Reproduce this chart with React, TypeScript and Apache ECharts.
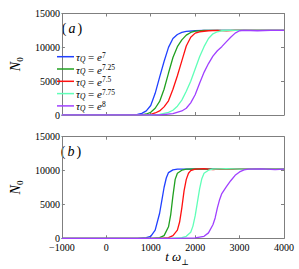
import React, { useEffect, useRef } from "react";
import * as echarts from "echarts";

// legend names (exponent of tau_Q)
const exponents = ["7", "7.25", "7.5", "7.75", "8"];
const colors = ["#2040ff", "#20a020", "#ff1010", "#60ffb8", "#a040ff"];

// x axis ticks
const xTicks = [-1000, 0, 1000, 2000, 3000, 4000];
const yTicks = [0, 5000, 10000, 15000];

// panel (a): [t, N0]
const blueA: [number, number][] = [[-1000, 0], [500, 0], [700, 100], [800, 250], [900, 600], [1000, 1400], [1100, 3200], [1200, 5600], [1300, 7900], [1400, 10000], [1500, 11300], [1600, 11900], [1700, 12200], [1800, 12350], [2000, 12450], [2200, 12500], [4000, 12500]];
const greenA: [number, number][] = [[-1000, 0], [800, 0], [900, 150], [1000, 400], [1100, 1000], [1200, 2000], [1300, 3800], [1400, 6200], [1500, 8500], [1600, 10100], [1700, 11100], [1800, 11800], [1900, 12200], [2000, 12400], [2200, 12500], [4000, 12500]];
const redA: [number, number][] = [[-1000, 0], [900, 0], [1000, 100], [1100, 300], [1200, 600], [1300, 1200], [1400, 2100], [1500, 3800], [1600, 5800], [1700, 8000], [1800, 10200], [1900, 11500], [2000, 12100], [2100, 12300], [2300, 12450], [2500, 12500], [2700, 12420], [2900, 12500], [4000, 12500]];
const cyanA: [number, number][] = [[-1000, 0], [1000, 0], [1200, 100], [1400, 400], [1500, 700], [1600, 1300], [1700, 2200], [1800, 3500], [1900, 5000], [2000, 6800], [2100, 8600], [2200, 10100], [2300, 11300], [2400, 12000], [2500, 12300], [2600, 12450], [2800, 12500], [4000, 12500]];
const purpleA: [number, number][] = [[-1000, 0], [1200, 0], [1500, 200], [1700, 600], [1800, 1000], [1900, 1800], [2000, 3000], [2100, 4700], [2200, 6300], [2300, 7600], [2400, 8700], [2500, 9500], [2600, 10100], [2700, 10800], [2800, 11500], [2900, 12100], [3000, 12450], [3100, 12500], [3400, 12450], [3700, 12500], [4000, 12500]];

// panel (b): [t, N0]
const blueB: [number, number][] = [[-1000, 0], [700, 0], [900, 100], [1000, 300], [1100, 1200], [1200, 3700], [1250, 5600], [1300, 7500], [1350, 8900], [1400, 9700], [1500, 10100], [1600, 10200], [4000, 10200]];
const greenB: [number, number][] = [[-1000, 0], [1000, 0], [1200, 100], [1300, 400], [1400, 1700], [1450, 3500], [1500, 6300], [1550, 8700], [1600, 9600], [1700, 10050], [1800, 10200], [2000, 10250], [2200, 10200], [4000, 10200]];
const redB: [number, number][] = [[-1000, 0], [1200, 0], [1400, 100], [1500, 400], [1600, 1200], [1650, 2400], [1700, 4500], [1750, 7000], [1800, 8700], [1850, 9600], [1900, 10000], [2000, 10200], [2200, 10300], [2400, 10150], [2600, 10250], [2800, 10200], [4000, 10200]];
const cyanB: [number, number][] = [[-1000, 0], [1400, 0], [1700, 100], [1800, 300], [1900, 900], [1950, 1800], [2000, 3300], [2050, 5300], [2100, 7300], [2150, 8800], [2200, 9600], [2300, 10050], [2400, 10200], [2700, 10300], [3000, 10200], [4000, 10200]];
const purpleB: [number, number][] = [[-1000, 0], [1600, 0], [2000, 50], [2200, 300], [2300, 800], [2400, 2000], [2450, 3000], [2500, 4500], [2550, 5700], [2600, 6600], [2700, 7600], [2800, 8500], [2900, 9300], [3000, 9800], [3100, 10100], [3200, 10200], [3500, 10250], [3800, 10150], [4000, 10200]];

const panelA = [blueA, greenA, redA, cyanA, purpleA];
const panelB = [blueB, greenB, redB, cyanB, purpleB];

const SERIF = "'Liberation Serif', 'DejaVu Serif', serif";
const AX = "#7f7f7f";

export default function App() {
  const ref = useRef<HTMLDivElement>(null);
  useEffect(() => {
    document.body.style.margin = "0";
    if (!ref.current) return;
    const chart = echarts.init(ref.current, undefined, { renderer: "svg" });
    const grids = [
      { left: 50, top: 13.5, width: 234, height: 101.5 },
      { left: 50, top: 136.7, width: 234, height: 101.6 },
    ];
    const xAxes: any[] = [];
    const yAxes: any[] = [];
    [0, 1].forEach((g) => {
      xAxes.push({
        type: "value", gridIndex: g, position: "bottom",
        min: xTicks[0], max: xTicks[xTicks.length - 1], interval: 1000,
        axisLine: { show: true, onZero: false, lineStyle: { color: AX, width: 1 } },
        axisTick: { show: true, inside: true, length: 3, lineStyle: { color: AX } },
        axisLabel: {
          show: g === 1, color: "#000", fontFamily: SERIF, fontSize: 10, margin: 4,
          showMinLabel: true, showMaxLabel: true,
          formatter: (v: number) => String(v).replace("-", "\u2212"),
        },
        splitLine: { show: false },
      });
      xAxes.push({
        type: "value", gridIndex: g, position: "top",
        min: xTicks[0], max: xTicks[xTicks.length - 1], interval: 1000,
        axisLine: { show: true, onZero: false, lineStyle: { color: AX, width: 1 } },
        axisTick: { show: true, inside: true, length: 3, lineStyle: { color: AX } },
        axisLabel: { show: false },
        splitLine: { show: false },
      });
      yAxes.push({
        type: "value", gridIndex: g, position: "left",
        min: yTicks[0], max: yTicks[yTicks.length - 1], interval: 5000,
        axisLine: { show: true, onZero: false, lineStyle: { color: AX, width: 1 } },
        axisTick: { show: true, inside: true, length: 3, lineStyle: { color: AX } },
        axisLabel: {
          color: "#000", fontFamily: SERIF, fontSize: 10, margin: 2,
          showMinLabel: true, showMaxLabel: true,
          formatter: (v: number) => String(v),
        },
        splitLine: { show: false },
        name: "{n|N}{s|0}",
        nameLocation: "middle",
        nameRotate: 90,
        nameGap: 30,
        nameTextStyle: {
          rich: {
            n: { fontFamily: SERIF, fontStyle: "italic", fontSize: 14, color: "#000", lineHeight: 16, verticalAlign: "top" },
            s: { fontFamily: SERIF, fontSize: 9, color: "#000", lineHeight: 16, verticalAlign: "bottom" },
          },
        },
      });
      yAxes.push({
        type: "value", gridIndex: g, position: "right",
        min: yTicks[0], max: yTicks[yTicks.length - 1], interval: 5000,
        axisLine: { show: true, onZero: false, lineStyle: { color: AX, width: 1 } },
        axisTick: { show: true, inside: true, length: 3, lineStyle: { color: AX } },
        axisLabel: { show: false },
        splitLine: { show: false },
      });
    });

    const series: any[] = [];
    [panelA, panelB].forEach((panel, g) => {
      panel.forEach((d, i) => {
        series.push({
          type: "line",
          name: "e" + exponents[i],
          xAxisIndex: g * 2,
          yAxisIndex: g * 2,
          data: d,
          showSymbol: false,
          symbol: "none",
          lineStyle: { color: colors[i], width: 1.3 },
          itemStyle: { color: colors[i] },
          z: 3,
        });
      });
    });

    const richLegend = {
      t: { fontFamily: SERIF, fontStyle: "italic", fontSize: 11, fill: "#000", lineHeight: 12, verticalAlign: "middle" },
      q: { fontFamily: SERIF, fontStyle: "italic", fontSize: 7.5, fill: "#000", lineHeight: 12, verticalAlign: "bottom" },
      eq: { fontFamily: SERIF, fontSize: 11, fill: "#000", lineHeight: 12, verticalAlign: "middle" },
      p: { fontFamily: SERIF, fontSize: 7.5, fill: "#000", lineHeight: 12, verticalAlign: "top" },
    };

    const legendItems: any[] = [];
    exponents.forEach((e, i) => {
      const cy = 56.7 + 12.3 * i;
      legendItems.push({
        type: "line",
        shape: { x1: 57, y1: cy, x2: 74, y2: cy },
        style: { stroke: colors[i], lineWidth: 1.5 },
        z: 10,
      });
      legendItems.push({
        type: "text",
        x: 76,
        y: cy + 0.5,
        z: 10,
        style: {
          text: `{t|τ}{q|Q}{eq| = }{t|e}{p|${e}}`,
          rich: richLegend,
          align: "left",
          verticalAlign: "middle",
        },
      });
    });

    chart.setOption({
      animation: false,
      backgroundColor: "#fff",
      grid: grids,
      xAxis: xAxes,
      yAxis: yAxes,
      graphic: [
        ...legendItems,
        {
          type: "text", x: 72, y: 28,
          style: {
            text: "{p|(}{i|a}{p|)}",
            align: "center", verticalAlign: "middle",
            rich: {
              p: { fontFamily: SERIF, fontSize: 14, fill: "#000" },
              i: { fontFamily: SERIF, fontStyle: "italic", fontSize: 14, fill: "#000", padding: [0, 2, 0, 2] },
            },
          },
        },
        {
          type: "text", x: 71, y: 151.5,
          style: {
            text: "{p|(}{i|b}{p|)}",
            align: "center", verticalAlign: "middle",
            rich: {
              p: { fontFamily: SERIF, fontSize: 14, fill: "#000" },
              i: { fontFamily: SERIF, fontStyle: "italic", fontSize: 14, fill: "#000", padding: [0, 2, 0, 2] },
            },
          },
        },
        {
          type: "text", x: 177, y: 258,
          style: {
            text: "{i|t ω}{s|⊥}",
            align: "center", verticalAlign: "middle",
            rich: {
              i: { fontFamily: SERIF, fontStyle: "italic", fontSize: 13, fill: "#000", lineHeight: 16, verticalAlign: "top" },
              s: { fontFamily: SERIF, fontSize: 8, fill: "#000", lineHeight: 16, verticalAlign: "bottom" },
            },
          },
        },
      ],
      series,
    });
    return () => chart.dispose();
  }, []);
  return <div ref={ref} style={{ width: 299, height: 269 }} />;
}
